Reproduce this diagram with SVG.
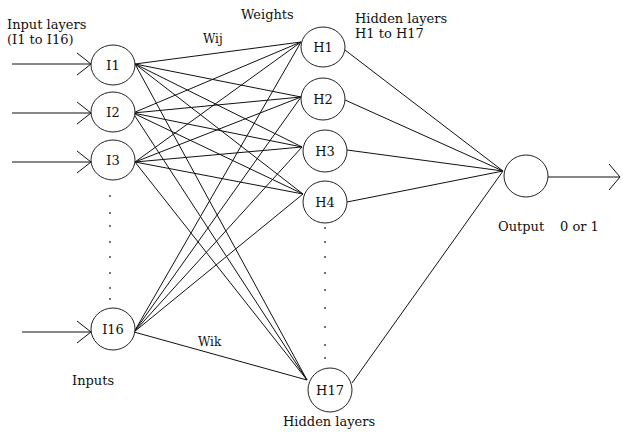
<svg xmlns="http://www.w3.org/2000/svg" width="623" height="432" viewBox="0 0 623 432">
<style>
text{font-family:"DejaVu Serif","Liberation Serif",serif;font-size:13px;fill:#111}
.lbl{text-anchor:middle}
.sm{font-size:12px}
.node{fill:#fff;stroke:#222;stroke-width:1}
.c line,.c polyline{stroke:#111;stroke-width:1;fill:none}
.dot{fill:#333}
</style>
<rect width="623" height="432" fill="#fff"/>
<g id="connectors" class="c">
<line x1="12" y1="64" x2="91" y2="64"/><polyline points="77,53 91,64 77,75"/>
<line x1="12" y1="113" x2="91" y2="113"/><polyline points="77,102 91,113 77,124"/>
<line x1="12" y1="162" x2="91" y2="162"/><polyline points="77,151 91,162 77,173"/>
<line x1="22" y1="332" x2="91" y2="332"/><polyline points="77,321 91,332 77,343"/>
<line x1="135" y1="64" x2="301" y2="42"/><line x1="135" y1="64" x2="301" y2="97"/><line x1="135" y1="64" x2="302" y2="147"/><line x1="135" y1="64" x2="303" y2="194"/><line x1="135" y1="64" x2="307" y2="380"/>
<line x1="133" y1="113" x2="301" y2="42"/><line x1="133" y1="113" x2="301" y2="97"/><line x1="133" y1="113" x2="302" y2="147"/><line x1="133" y1="113" x2="303" y2="194"/><line x1="133" y1="113" x2="307" y2="380"/>
<line x1="135" y1="162" x2="301" y2="42"/><line x1="135" y1="162" x2="301" y2="97"/><line x1="135" y1="162" x2="302" y2="147"/><line x1="135" y1="162" x2="303" y2="194"/><line x1="135" y1="162" x2="307" y2="380"/>
<line x1="134" y1="332" x2="301" y2="42"/><line x1="134" y1="332" x2="301" y2="97"/><line x1="134" y1="332" x2="302" y2="147"/><line x1="134" y1="332" x2="303" y2="194"/><line x1="134" y1="332" x2="307" y2="380"/>
<line x1="345" y1="50" x2="503" y2="171"/><line x1="345" y1="100" x2="503" y2="171"/><line x1="347" y1="150" x2="503" y2="171"/><line x1="347" y1="202" x2="503" y2="171"/><line x1="352" y1="383" x2="503" y2="171"/>
<line x1="548" y1="177" x2="620" y2="177"/><polyline points="609,164 620,177 609,190"/>
</g>
<g id="I1"><ellipse class="node" cx="113" cy="65" rx="22" ry="20"/><text class="lbl" x="113" y="70">I1</text></g>
<g id="I2"><ellipse class="node" cx="113" cy="112" rx="22" ry="20"/><text class="lbl" x="113" y="117">I2</text></g>
<g id="I3"><ellipse class="node" cx="113" cy="160" rx="22" ry="20"/><text class="lbl" x="113" y="165">I3</text></g>
<g id="I16"><ellipse class="node" cx="113" cy="329" rx="22" ry="21"/><text class="lbl" x="113" y="334">I16</text></g>
<g id="H1"><ellipse class="node" cx="323" cy="47" rx="22" ry="20"/><text class="lbl" x="323" y="52">H1</text></g>
<g id="H2"><ellipse class="node" cx="323" cy="99" rx="22" ry="21"/><text class="lbl" x="323" y="104">H2</text></g>
<g id="H3"><ellipse class="node" cx="325" cy="151" rx="22" ry="21"/><text class="lbl" x="325" y="156">H3</text></g>
<g id="H4"><ellipse class="node" cx="325" cy="202" rx="22" ry="21"/><text class="lbl" x="325" y="207">H4</text></g>
<g id="H17"><ellipse class="node" cx="330" cy="390" rx="22" ry="22"/><text class="lbl" x="330" y="395">H17</text></g>
<g id="Output"><ellipse class="node" cx="526" cy="176" rx="22" ry="21"/></g>
<g id="dots">
<circle class="dot" cx="110" cy="196" r="0.9"/><circle class="dot" cx="110" cy="213" r="0.9"/><circle class="dot" cx="110" cy="226" r="0.9"/><circle class="dot" cx="110" cy="242" r="0.9"/><circle class="dot" cx="110" cy="257" r="0.9"/><circle class="dot" cx="110" cy="273" r="0.9"/><circle class="dot" cx="110" cy="288" r="0.9"/><circle class="dot" cx="110" cy="299" r="0.9"/>
<circle class="dot" cx="325" cy="228" r="0.9"/><circle class="dot" cx="325" cy="242" r="0.9"/><circle class="dot" cx="325" cy="257" r="0.9"/><circle class="dot" cx="325" cy="273" r="0.9"/><circle class="dot" cx="325" cy="290" r="0.9"/><circle class="dot" cx="325" cy="308" r="0.9"/><circle class="dot" cx="325" cy="327" r="0.9"/><circle class="dot" cx="325" cy="345" r="0.9"/><circle class="dot" cx="325" cy="358" r="0.9"/>
</g>
<g id="labels">
<text x="7" y="29">Input layers</text>
<text x="7" y="44">(I1 to I16)</text>
<text x="241" y="19">Weights</text>
<text class="sm" x="203" y="43">Wij</text>
<text x="355" y="23">Hidden layers</text>
<text x="355" y="38">H1 to H17</text>
<text class="sm" x="198" y="346">Wik</text>
<text x="72" y="385">Inputs</text>
<text x="283" y="426">Hidden layers</text>
<text x="498" y="231">Output</text>
<text x="560" y="231">0 or 1</text>
</g>
</svg>
